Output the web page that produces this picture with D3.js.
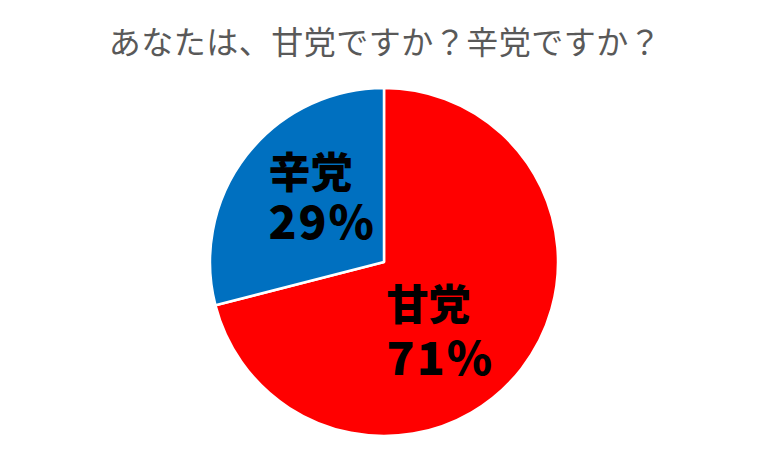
<!DOCTYPE html>
<html>
<head>
<meta charset="utf-8">
<script src="https://cdn.jsdelivr.net/npm/d3@7"></script>
<style>
  body { margin: 0; background: #fff; }
  svg { display: block; }
</style>
</head>
<body>
<div id="chart"><svg></svg></div>
<script>
var categories = ['甘党', '辛党'];
var values = [71, 29];
var colors = ['#ff0000', '#0070c0'];
var title = 'あなたは、甘党ですか？辛党ですか？';

var width = 768,
    height = 461,
    cx = 384,
    cy = 262,
    radius = 174;

var svg = d3.select('#chart').select('svg')
    .attr('width', width)
    .attr('height', height);

svg.append('text')
    .attr('x', width / 2 + 1)
    .attr('y', 54)
    .attr('text-anchor', 'middle')
    .attr('font-family', '"Noto Sans CJK JP", sans-serif')
    .attr('font-size', 32)
    .attr('letter-spacing', 0.5)
    .attr('fill', '#595959')
    .text(title);

var data = categories.map(function(c, i) { return {name: c, value: values[i], color: colors[i]}; });

var pie = d3.pie().sort(null).value(d => d.value);
var arc = d3.arc().innerRadius(0).outerRadius(radius);

var g = svg.append('g')
    .attr('transform', 'translate(' + cx + ',' + cy + ')');

var arcs = pie(data);

g.selectAll('path')
    .data(arcs)
  .enter()
    .append('path')
    .attr('d', arc)
    .attr('fill', d => d.data.color)
    .attr('stroke', '#fff')
    .attr('stroke-width', 2.5)
    .attr('stroke-linejoin', 'round');

// label positions relative to slice centroid
var labelArc = d3.arc().innerRadius(radius * 0.55).outerRadius(radius * 0.55);
var offsets = [[-73, -1], [-40, -15]];

var labels = g.selectAll('g.label')
    .data(arcs)
  .enter()
    .append('g')
    .attr('class', 'label')
    .attr('transform', function(d, i) {
        var c = labelArc.centroid(d);
        return 'translate(' + (c[0] + offsets[i][0]) + ',' + (c[1] + offsets[i][1]) + ')';
    });

labels.append('text')
    .attr('x', 0)
    .attr('y', 0)
    .attr('font-family', '"Noto Sans CJK JP", sans-serif')
    .attr('font-weight', 900)
    .attr('font-size', 42)
    .attr('fill', '#000')
    .text(d => d.data.name);

labels.append('text')
    .attr('x', 0)
    .attr('y', (d, i) => i === 0 ? 55 : 51)
    .attr('font-family', '"Noto Sans CJK JP", sans-serif')
    .attr('font-weight', 900)
    .attr('font-size', 46)
    .attr('letter-spacing', 2)
    .attr('fill', '#000')
    .text(d => d.data.value + '%');
</script>
</body>
</html>
